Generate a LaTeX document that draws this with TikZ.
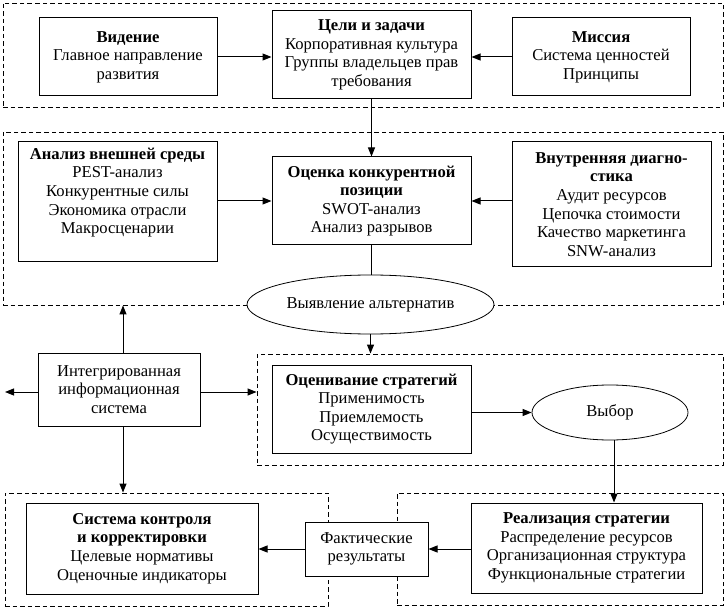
\documentclass[tikz,border=0pt]{standalone}
\usepackage{fontspec}
\setmainfont{Liberation Serif}
\usetikzlibrary{arrows.meta,shapes.geometric}
\begin{document}
\begin{tikzpicture}[x=1pt,y=-1pt,
  box/.style={draw, fill=white, line width=1pt, inner sep=0pt, align=center,
    font=\fontsize{16.6}{18.6}\selectfont},
  oval/.style={draw, fill=white, ellipse, line width=0.8pt, inner sep=0pt,
    font=\fontsize{16.6}{18.6}\selectfont},
  frame/.style={draw, dashed, dash pattern=on 4.5pt off 3pt, line width=0.9pt, inner sep=0pt},
  arr/.style={line width=1pt, -{Triangle[length=9pt,width=7pt]}},
  ln/.style={line width=1pt}]
\useasboundingbox (0,0) rectangle (727,609);
% frames
\node[frame, minimum width=720pt, minimum height=104pt] (f1) at (363,55) {};
\node[frame, minimum width=720pt, minimum height=173pt] (f2) at (363,218.5) {};
\node[frame, minimum width=466pt, minimum height=111pt] (f3) at (490,409.5) {};
\node[frame, minimum width=323pt, minimum height=113pt] (f4) at (166.5,549.5) {};
\node[frame, minimum width=326pt, minimum height=112pt] (f5) at (560,549) {};
% row 1
\node[box, minimum width=178pt, minimum height=78pt] (vid) at (128,57)
  {\textbf{Видение}\\Главное направление\\развития};
\node[box, minimum width=199pt, minimum height=88pt] (celi) at (371.5,55)
  {\textbf{Цели и задачи}\\Корпоративная культура\\Группы владельцев прав\\требования};
\node[box, minimum width=178pt, minimum height=78pt] (miss) at (601,57)
  {\textbf{Миссия}\\Система ценностей\\Принципы};
% row 2
\node[box, minimum width=199pt, minimum height=120pt] (vnesh) at (117.5,202)
  {\textbf{Анализ внешней среды}\\PEST-анализ\\Конкурентные силы\\Экономика отрасли\\Макросценарии\\[4pt]};
\node[box, minimum width=199pt, minimum height=88pt] (ocen) at (371.5,201)
  {\textbf{Оценка конкурентной}\\\textbf{позиции}\\SWOT-анализ\\Анализ разрывов};
\node[box, minimum width=199pt, minimum height=125pt] (vnutr) at (611.5,204.5)
  {\textbf{Внутренняя диагно-}\\\textbf{стика}\\Аудит ресурсов\\Цепочка стоимости\\Качество маркетинга\\SNW-анализ};
\node[oval, minimum width=247pt, minimum height=59pt] (vyav) at (370.5,304.5)
  {Выявление альтернатив};
% row 3
\node[box, minimum width=162pt, minimum height=73pt] (integ) at (119,389.5)
  {Интегрированная\\информационная\\система};
\node[box, minimum width=199pt, minimum height=88pt] (otsen) at (371.5,409)
  {\textbf{Оценивание стратегий}\\Применимость\\Приемлемость\\Осуществимость};
\node[oval, minimum width=156pt, minimum height=55pt] (vybor) at (610,412.5)
  {Выбор};
% row 4
\node[box, minimum width=232pt, minimum height=91pt] (sist) at (142,548.5)
  {\textbf{Система контроля}\\\textbf{и корректировки}\\Целевые нормативы\\Оценочные индикаторы};
\node[box, minimum width=123pt, minimum height=54pt] (fakt) at (366.5,549)
  {Фактические\\результаты};
\node[box, minimum width=231pt, minimum height=90pt] (real) at (586.5,548)
  {\textbf{Реализация стратегии}\\Распределение ресурсов\\Организационная структура\\Функциональные стратегии};
\coordinate (leftend) at (5,392);
% connectors
\draw[arr] (vid.east) -- (vid.east -| celi.west);
\draw[arr] (miss.west) -- (miss.west -| celi.east);
\draw[arr] (celi.south) -- (ocen.north);
\draw[arr] (vnesh.east |- ocen.west) -- (ocen.west);
\draw[arr] (vnutr.west |- ocen.east) -- (ocen.east);
\draw[ln] (ocen.south) -- (ocen.south |- vyav.north);
\draw[arr] (vyav.south) -- (vyav.south |- f3.north);
\draw[arr] ([xshift=4pt]integ.north) -- ([xshift=4pt]integ.north |- f2.south);
\draw[arr] ([yshift=-2.5pt]integ.west) -- ([yshift=-2.5pt]integ.west -| leftend);
\draw[arr] ([yshift=-2.5pt]integ.east) -- ([yshift=-2.5pt]integ.east -| f3.west);
\draw[arr] ([xshift=4pt]integ.south) -- ([xshift=4pt]integ.south |- f4.north);
\draw[arr] (otsen.east |- vybor.west) -- (vybor.west);
\draw[arr] ([xshift=4pt]vybor.south) -- ([xshift=4pt]vybor.south |- real.north);
\draw[arr] (real.west |- fakt.east) -- (fakt.east);
\draw[arr] (fakt.west) -- (fakt.west -| sist.east);
\end{tikzpicture}
\end{document}
